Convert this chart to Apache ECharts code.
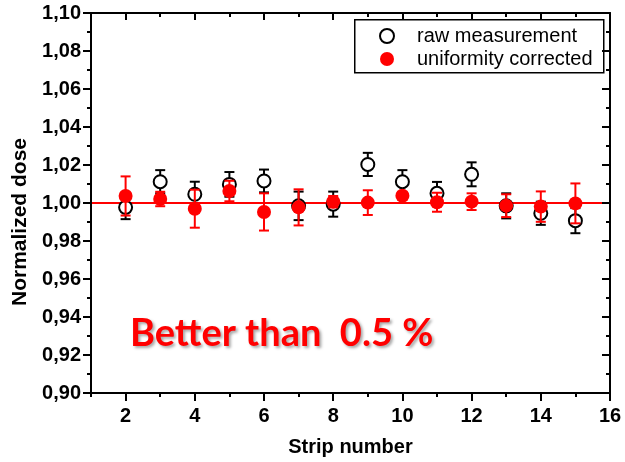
<html>
<head>
  <meta charset="UTF-8">
  <title>Normalized dose per strip</title>
  <script src="https://cdn.jsdelivr.net/npm/echarts@6/dist/echarts.min.js"></script>
  <style>
    html, body { margin: 0; padding: 0; background: #fff; }
    #main { width: 625px; height: 462px; }
  </style>
</head>
<body>
<div id="main"></div>

<script>
    var strips = [2, 3, 4, 5, 6, 7, 8, 9, 10, 11, 12, 13, 14, 15];
    var rawDose = [0.9977, 1.0112, 1.0046, 1.0098, 1.0116, 0.9985, 0.9994, 1.0203, 1.0112, 1.0051, 1.0151, 0.9985, 0.9946, 0.9907];
    var rawErr = [0.0062, 0.0061, 0.0066, 0.0065, 0.0060, 0.0075, 0.0066, 0.0061, 0.0061, 0.0060, 0.0063, 0.0066, 0.0061, 0.0066];
    var corrDose = [1.0037, 1.0021, 0.9970, 1.0063, 0.9953, 0.9977, 1.0007, 1.0002, 1.0038, 1.0004, 1.0007, 0.9986, 0.9981, 0.9998];
    var corrErr = [0.0103, 0.0038, 0.0100, 0.0054, 0.0098, 0.0095, 0.0030, 0.0065, 0.0020, 0.0050, 0.0044, 0.0060, 0.0080, 0.0105];
    var refLevel = 1.00;

    var xMajor = [2, 4, 6, 8, 10, 12, 14, 16];
    var xMinor = [1, 3, 5, 7, 9, 11, 13, 15];

    var font = 'Liberation Sans, Arial, sans-serif';

    function points(ys) {
        return strips.map(function (s, i) { return [s, ys[i]]; });
    }
    function bars(ys, errs) {
        return strips.map(function (s, i) { return [s, ys[i] - errs[i], ys[i] + errs[i]]; });
    }

    // vertical error bar with small caps
    function errorBar(color) {
        return function (params, api) {
            var x = api.value(0);
            var lo = api.coord([x, api.value(1)]);
            var hi = api.coord([x, api.value(2)]);
            var w = 5;
            var st = { stroke: color, lineWidth: 2 };
            return {
                type: 'group',
                children: [
                    { type: 'line', shape: { x1: lo[0], y1: lo[1], x2: hi[0], y2: hi[1] }, style: st },
                    { type: 'line', shape: { x1: lo[0] - w, y1: lo[1], x2: lo[0] + w, y2: lo[1] }, style: st },
                    { type: 'line', shape: { x1: hi[0] - w, y1: hi[1], x2: hi[0] + w, y2: hi[1] }, style: st }
                ]
            };
        };
    }

    function xAx(pos, ticks, len, inside, main) {
        return {
            type: 'value', min: 1, max: 16, position: pos,
            axisLine: { show: main, onZero: false, lineStyle: { color: '#000', width: 2 } },
            axisTick: { show: true, inside: inside, length: len, customValues: ticks, lineStyle: { color: '#000', width: 2 } },
            axisLabel: {
                show: main && pos === 'bottom', customValues: ticks, margin: 13,
                fontSize: 20, fontWeight: 'bold', color: '#000', fontFamily: font
            },
            splitLine: { show: false },
            name: (main && pos === 'bottom') ? 'Strip number' : '',
            nameLocation: 'middle', nameGap: 44,
            nameTextStyle: { fontSize: 20, fontWeight: 'bold', color: '#000', fontFamily: font }
        };
    }

    function yAx(pos, inside) {
        return {
            type: 'value', min: 0.9, max: 1.1, interval: 0.02, position: pos,
            axisLine: { show: true, onZero: false, lineStyle: { color: '#000', width: 2 } },
            axisTick: { show: true, inside: inside, length: 8, lineStyle: { color: '#000', width: 2 } },
            minorTick: { show: true, splitNumber: 2, length: 4, lineStyle: { color: '#000', width: 2 } },
            axisLabel: {
                show: pos === 'left', margin: 10,
                fontSize: 20, fontWeight: 'bold', color: '#000', fontFamily: font,
                formatter: function (v) { return v.toFixed(2).replace('.', ','); }
            },
            splitLine: { show: false },
            minorSplitLine: { show: false },
            name: pos === 'left' ? 'Normalized dose' : '',
            nameLocation: 'middle', nameGap: 50,
            nameTextStyle: { fontSize: 21, fontWeight: 'bold', color: '#000', fontFamily: font, padding: [0, 38, 0, 0] }
        };
    }

    var myChart = echarts.init(document.getElementById('main'), null, { renderer: 'canvas' });

    var option = {
        animation: false,
        backgroundColor: '#fff',
        grid: { left: 91, right: 15, top: 13, bottom: 69 },
        xAxis: [
            xAx('bottom', xMajor, 8, false, true),
            xAx('bottom', xMinor, 4, false, false),
            xAx('top', xMajor, 7, true, true),
            xAx('top', xMinor, 4, true, false)
        ],
        yAxis: [
            yAx('left', false),
            yAx('right', true)
        ],
        legend: {
            data: ['raw measurement', 'uniformity corrected'],
            orient: 'vertical',
            left: 379, top: 25,
            padding: 0,
            itemWidth: 50, itemHeight: 14, itemGap: 1,
            textStyle: { fontSize: 20, color: '#000', fontFamily: font, lineHeight: 22 }
        },
        graphic: [
            {
                type: 'rect', left: 354, top: 19, z: 0,
                shape: { width: 249, height: 53 },
                style: { fill: '#fff', stroke: '#000', lineWidth: 1.5 }
            },
            {
                type: 'text', left: 130, top: 315, z: 10,
                style: {
                    text: 'Better than  0.5 %',
                    fill: '#ff0000',
                    font: 'bold 38px Lato, "Open Sans", sans-serif',
                    textShadowColor: 'rgba(0,0,0,0.35)', textShadowBlur: 3,
                    textShadowOffsetX: 2, textShadowOffsetY: 2
                }
            }
        ],
        series: [
            {
                name: 'raw err', type: 'custom', z: 1,
                renderItem: errorBar('#000'),
                encode: { x: 0, y: [1, 2] },
                data: bars(rawDose, rawErr)
            },
            {
                name: 'raw measurement', type: 'scatter', z: 2,
                symbol: 'circle', symbolSize: 13,
                itemStyle: { color: '#fff', borderColor: '#000', borderWidth: 2, opacity: 1 },
                data: points(rawDose)
            },
            {
                name: 'corr err', type: 'custom', z: 3,
                renderItem: errorBar('#ff0000'),
                encode: { x: 0, y: [1, 2] },
                data: bars(corrDose, corrErr)
            },
            {
                name: 'uniformity corrected', type: 'scatter', z: 4,
                symbol: 'circle', symbolSize: 14,
                itemStyle: { color: '#ff0000', opacity: 1 },
                data: points(corrDose),
                markLine: {
                    silent: true, symbol: 'none', z: 0,
                    label: { show: false },
                    lineStyle: { color: '#ff0000', width: 2, type: 'solid' },
                    data: [{ yAxis: refLevel }]
                }
            }
        ]
    };

    myChart.setOption(option);
</script>
</body>
</html>
